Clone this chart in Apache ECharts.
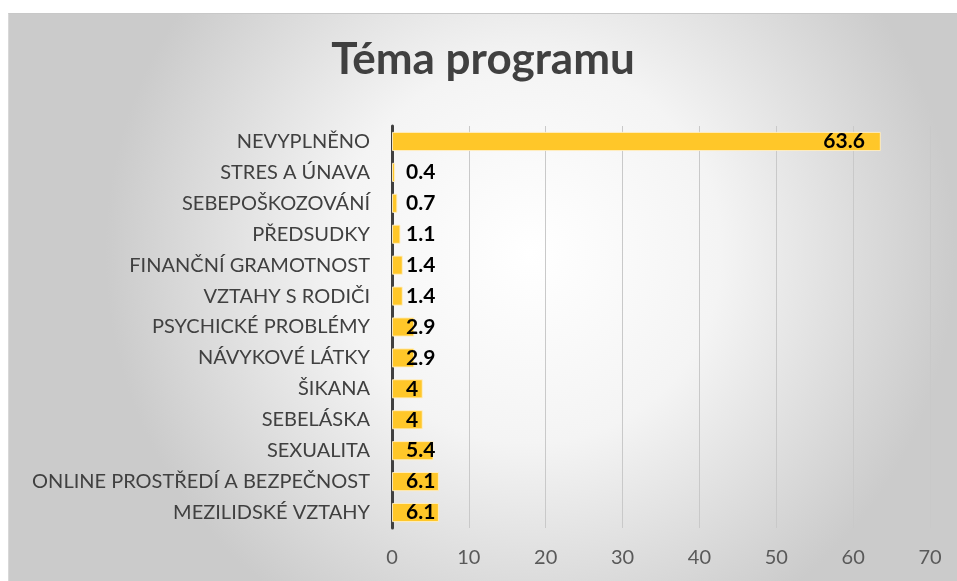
<!DOCTYPE html>
<html>
<head>
<meta charset="utf-8">
<script src="https://cdn.jsdelivr.net/npm/echarts@6/dist/echarts.min.js"></script>
<style>
  html, body { margin: 0; padding: 0; background: #fff; }
  #chart {
    position: absolute;
    left: 8px;
    top: 13px;
    width: 949px;
    height: 568px;
    border-top: 1px solid #c8c8c8;
    border-left: 1px solid #d8d8d8;
    box-sizing: border-box;
  }
</style>
</head>
<body>
<div id="chart"></div>
<script>
const categories = [
  'NEVYPLNĚNO',
  'STRES A ÚNAVA',
  'SEBEPOŠKOZOVÁNÍ',
  'PŘEDSUDKY',
  'FINANČNÍ GRAMOTNOST',
  'VZTAHY S RODIČI',
  'PSYCHICKÉ PROBLÉMY',
  'NÁVYKOVÉ LÁTKY',
  'ŠIKANA',
  'SEBELÁSKA',
  'SEXUALITA',
  'ONLINE PROSTŘEDÍ A BEZPEČNOST',
  'MEZILIDSKÉ VZTAHY'
];
const values = [63.6, 0.4, 0.7, 1.1, 1.4, 1.4, 2.9, 2.9, 4, 4, 5.4, 6.1, 6.1];
const xTicks = [0, 10, 20, 30, 40, 50, 60, 70];

const chart = echarts.init(document.getElementById('chart'));

const font = 'Lato';

const option = {
  backgroundColor: {
    type: 'radial',
    x: 0.55,
    y: 0.42,
    r: 0.75,
    colorStops: [
      { offset: 0, color: '#ffffff' },
      { offset: 0.45, color: '#f4f4f4' },
      { offset: 1, color: '#cbcbcb' }
    ]
  },
  animation: false,
  title: {
    text: 'Téma programu',
    left: 'center',
    top: 19,
    textStyle: {
      fontFamily: font,
      fontSize: 44,
      fontWeight: 'bold',
      color: '#404040'
    }
  },
  grid: {
    left: 383,
    right: 27,
    top: 112,
    bottom: 53
  },
  xAxis: {
    type: 'value',
    min: xTicks[0],
    max: xTicks[xTicks.length - 1],
    interval: 10,
    axisLine: { show: false },
    axisTick: { show: false },
    splitLine: {
      lineStyle: { color: '#c9c9c9', width: 1 }
    },
    axisLabel: {
      fontFamily: font,
      fontSize: 20,
      color: '#595959',
      margin: 20
    }
  },
  yAxis: {
    type: 'category',
    inverse: true,
    data: categories,
    axisLine: {
      lineStyle: { color: '#404040', width: 3 }
    },
    axisTick: { show: false },
    axisLabel: {
      fontFamily: font,
      fontSize: 20,
      color: '#404040',
      margin: 22
    }
  },
  series: [{
    type: 'bar',
    barCategoryGap: '38%',
    itemStyle: {
      color: '#FFC729',
      borderColor: 'rgba(255,240,200,0.9)',
      borderWidth: 1
    },
    label: {
      show: true,
      fontFamily: font,
      fontSize: 21,
      fontWeight: 'bold',
      color: '#000'
    },
    data: values.map(v => ({
      value: v,
      label: v > 10
        ? { position: 'insideRight', distance: 16 }
        : { position: 'insideLeft', distance: 14 }
    }))
  }]
};

chart.setOption(option);
</script>
</body>
</html>
